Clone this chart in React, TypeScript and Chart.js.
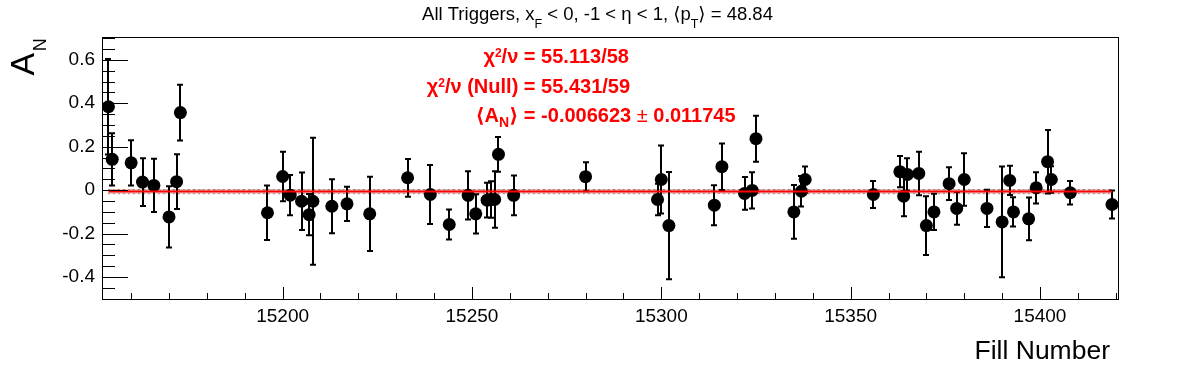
import React, { useEffect, useRef } from 'react';
import { Chart, registerables } from 'chart.js';

Chart.register(...registerables);

// ---------------- data ----------------
const fills = [
  15154, 15155, 15160, 15163, 15166, 15170, 15172, 15173, 15196, 15200,
  15202, 15205, 15207, 15208, 15213, 15217, 15223, 15233, 15239, 15244,
  15249, 15251, 15254, 15255, 15256, 15257, 15261, 15280, 15299, 15300,
  15302, 15314, 15316, 15322, 15324, 15325, 15335, 15337, 15338, 15356,
  15363, 15364, 15365, 15368, 15370, 15372, 15376, 15378, 15380, 15386,
  15390, 15392, 15393, 15397, 15399, 15402, 15403, 15408, 15419,
];
const asym = [
  0.384, 0.142, 0.126, 0.037, 0.022, -0.123, 0.039, 0.357, -0.104, 0.063,
  -0.023, -0.051, -0.113, -0.051, -0.074, -0.063, -0.109, 0.057, -0.02, -0.158,
  -0.024, -0.109, -0.046, -0.043, -0.043, 0.165, -0.024, 0.062, -0.043, 0.049,
  -0.163, -0.069, 0.108, -0.015, -0.001, 0.237, -0.1, -0.005, 0.049, -0.02,
  0.085, -0.028, 0.072, 0.077, -0.163, -0.1, 0.03, -0.084, 0.049, -0.084,
  -0.146, 0.045, -0.1, -0.132, 0.011, 0.131, 0.049, -0.012, -0.066,
];
const errs = [
  0.22, 0.12, 0.104, 0.11, 0.123, 0.141, 0.126, 0.128, 0.125, 0.114,
  0.093, 0.132, 0.095, 0.292, 0.124, 0.079, 0.171, 0.087, 0.136, 0.069,
  0.111, 0.09, 0.08, 0.084, 0.13, 0.08, 0.091, 0.067, 0.072, 0.157,
  0.247, 0.092, 0.107, 0.075, 0.083, 0.106, 0.124, 0.07, 0.06, 0.062,
  0.072, 0.092, 0.075, 0.1, 0.135, 0.083, 0.075, 0.075, 0.121, 0.086,
  0.255, 0.067, 0.067, 0.098, 0.072, 0.146, 0.061, 0.054, 0.065,
];
const fitMean = -0.006623;
const fitErr = 0.011745;
const xTickLabels = [15200, 15250, 15300, 15350, 15400];
const yTickLabels = [-0.4, -0.2, 0, 0.2, 0.4, 0.6];
const xRange = [15152.3, 15420.6];
const yRange = [-0.501, 0.705];

const FONT = '"Liberation Sans", Arial, Helvetica, "DejaVu Sans", sans-serif';

type Piece = { t: string; size: number; bold?: boolean; dy?: number };

function fontOf(p: Piece) {
  return `${p.bold ? 'bold ' : ''}${p.size}px ${FONT}`;
}
function richWidth(ctx: CanvasRenderingContext2D, pieces: Piece[]) {
  let w = 0;
  for (const p of pieces) {
    ctx.font = fontOf(p);
    w += ctx.measureText(p.t).width;
  }
  return w;
}
function drawRich(ctx: CanvasRenderingContext2D, pieces: Piece[], x: number, y: number) {
  let cx = x;
  for (const p of pieces) {
    ctx.font = fontOf(p);
    ctx.fillText(p.t, cx, y + (p.dy || 0));
    cx += ctx.measureText(p.t).width;
  }
}

const rootPlugin = {
  id: 'rootStyle',
  beforeDraw(chart: any) {
    const { ctx, width, height } = chart;
    ctx.save();
    ctx.fillStyle = '#fff';
    ctx.fillRect(0, 0, width, height);
    ctx.restore();
  },
  beforeDatasetsDraw(chart: any) {
    const { ctx, scales } = chart;
    const x = scales.x;
    const y = scales.y;
    ctx.save();
    // fit error band (grey dotted pattern)
    const x0 = x.getPixelForValue(fills[0]);
    const x1 = x.getPixelForValue(fills[fills.length - 1]);
    const yt = y.getPixelForValue(fitMean + fitErr);
    const yb = y.getPixelForValue(fitMean - fitErr);
    ctx.fillStyle = 'rgba(205,205,205,0.7)';
    ctx.fillRect(x0, yt, x1 - x0, yb - yt);
    ctx.strokeStyle = '#bdbdbd';
    ctx.lineWidth = 2;
    ctx.setLineDash([4, 3]);
    ctx.beginPath();
    ctx.moveTo(x0, yt + 1);
    ctx.lineTo(x1, yt + 1);
    ctx.stroke();
    ctx.strokeStyle = '#ff0000';
    ctx.lineWidth = 1;
    ctx.setLineDash([1, 4]);
    ctx.beginPath();
    ctx.moveTo(x0, yt + 0.5);
    ctx.lineTo(x1, yt + 0.5);
    ctx.moveTo(x0, yb - 0.5);
    ctx.lineTo(x1, yb - 0.5);
    ctx.stroke();
    ctx.setLineDash([]);
    // error bars
    ctx.strokeStyle = '#000';
    ctx.lineWidth = 2;
    for (let i = 0; i < fills.length; i++) {
      const px = Math.round(x.getPixelForValue(fills[i]));
      const p1 = y.getPixelForValue(asym[i] + errs[i]);
      const p2 = y.getPixelForValue(asym[i] - errs[i]);
      ctx.beginPath();
      ctx.moveTo(px, p1);
      ctx.lineTo(px, p2);
      ctx.moveTo(px - 3, p1);
      ctx.lineTo(px + 3, p1);
      ctx.moveTo(px - 3, p2);
      ctx.lineTo(px + 3, p2);
      ctx.stroke();
    }
    ctx.restore();
  },
  afterDraw(chart: any) {
    const { ctx, chartArea, scales } = chart;
    const x = scales.x;
    const y = scales.y;
    const { left, right, top, bottom } = chartArea;
    ctx.save();
    ctx.strokeStyle = '#000';
    ctx.lineWidth = 1;
    // frame
    ctx.strokeRect(Math.round(left) + 0.5, Math.round(top) + 0.5, Math.round(right - left), Math.round(bottom - top));
    // x ticks (inside, upward)
    ctx.beginPath();
    for (let v = Math.ceil(xRange[0] / 10) * 10; v <= xRange[1]; v += 10) {
      const px = Math.round(x.getPixelForValue(v)) + 0.5;
      const len = v % 50 === 0 ? 12 : 6;
      ctx.moveTo(px, bottom);
      ctx.lineTo(px, bottom - len);
    }
    // y ticks (inside, rightward)
    for (let k = -10; k <= 14; k++) {
      const v = k * 0.05;
      if (v < yRange[0] - 1e-9 || v > yRange[1] + 1e-9) continue;
      const py = Math.round(y.getPixelForValue(v)) + 0.5;
      const len = k % 4 === 0 ? 26 : 13;
      ctx.moveTo(left, py);
      ctx.lineTo(left + len, py);
    }
    ctx.stroke();

    ctx.fillStyle = '#000';
    ctx.textAlign = 'left';
    ctx.textBaseline = 'alphabetic';

    // title
    const title: Piece[] = [
      { t: 'All Triggers, x', size: 18.5 },
      { t: 'F', size: 12.5, dy: 8 },
      { t: ' < 0, -1 < \u03b7 < 1, \u27e8p', size: 18.5 },
      { t: 'T', size: 12.5, dy: 8 },
      { t: '\u27e9 = 48.84', size: 18.5 },
    ];
    const tw = richWidth(ctx, title);
    drawRich(ctx, title, 597.5 - tw / 2, 20);

    // x-axis title
    ctx.font = `26.5px ${FONT}`;
    ctx.textAlign = 'right';
    ctx.fillText('Fill Number', 1110, 359);
    ctx.textAlign = 'left';

    // y-axis title (rotated)
    ctx.save();
    ctx.translate(34, 75.5);
    ctx.rotate(-Math.PI / 2);
    ctx.font = `34px ${FONT}`;
    ctx.fillText('A', 0, 0);
    const wA = ctx.measureText('A').width;
    ctx.font = `18px ${FONT}`;
    ctx.fillText('N', wA + 1.5, 11.5);
    ctx.restore();

    // fit results
    ctx.fillStyle = '#ff0000';
    const eqX = 518.3;
    const lines: { l: Piece[]; r: Piece[]; y: number }[] = [
      {
        l: [
          { t: '\u03c7', size: 20, bold: true },
          { t: '2', size: 12, bold: true, dy: -6 },
          { t: '/\u03bd', size: 20, bold: true },
        ],
        r: [{ t: ' = 55.113/58', size: 20, bold: true }],
        y: 63.3,
      },
      {
        l: [
          { t: '\u03c7', size: 20, bold: true },
          { t: '2', size: 12, bold: true, dy: -6 },
          { t: '/\u03bd (Null)', size: 20, bold: true },
        ],
        r: [{ t: ' = 55.431/59', size: 20, bold: true }],
        y: 92.7,
      },
      {
        l: [
          { t: '\u27e8A', size: 20, bold: true },
          { t: 'N', size: 14, bold: true, dy: 5 },
          { t: '\u27e9', size: 20, bold: true },
        ],
        r: [
          { t: ' = -0.006623 ', size: 20, bold: true },
          { t: '\u00b1', size: 20 },
          { t: ' 0.011745', size: 20, bold: true },
        ],
        y: 121.7,
      },
    ];
    for (const ln of lines) {
      const lw = richWidth(ctx, ln.l);
      drawRich(ctx, ln.l, eqX - lw, ln.y);
      drawRich(ctx, ln.r, eqX, ln.y);
    }
    ctx.restore();
  },
};

export default function App() {
  const canvasRef = useRef<HTMLCanvasElement | null>(null);

  useEffect(() => {
    const canvas = canvasRef.current;
    if (!canvas) return;
    Chart.defaults.font.family = FONT;
    Chart.defaults.color = '#000';

    const points = fills.map((f, i) => ({ x: f, y: asym[i] }));
    const fitLine = [
      { x: fills[0], y: fitMean },
      { x: fills[fills.length - 1], y: fitMean },
    ];

    const chart = new Chart(canvas, {
      type: 'scatter',
      data: {
        datasets: [
          {
            type: 'line',
            label: 'fit',
            data: fitLine,
            borderColor: '#ff0000',
            borderWidth: 2,
            pointRadius: 0,
            fill: false,
            order: 0,
          } as any,
          {
            type: 'scatter',
            label: 'A_N',
            data: points,
            backgroundColor: '#000',
            borderColor: '#000',
            borderWidth: 0,
            pointRadius: 6.5,
            order: 1,
          },
        ],
      },
      options: {
        responsive: false,
        devicePixelRatio: 1,
        animation: false,
        layout: { padding: { left: 0, top: 37, right: 78, bottom: 0 } },
        plugins: { legend: { display: false }, tooltip: { enabled: false }, title: { display: false } },
        scales: {
          x: {
            type: 'linear',
            min: xRange[0],
            max: xRange[1],
            grid: { display: false, drawTicks: false },
            border: { display: false },
            ticks: {
              padding: 6,
              autoSkip: false,
              maxRotation: 0,
              color: '#000',
              font: { size: 19, family: FONT },
              callback: (v: any) => String(v),
            },
            afterBuildTicks: (s: any) => {
              s.ticks = xTickLabels.map((v) => ({ value: v }));
            },
            afterFit: (s: any) => {
              s.height = 73;
            },
          },
          y: {
            type: 'linear',
            min: yRange[0],
            max: yRange[1],
            grid: { display: false, drawTicks: false },
            border: { display: false },
            ticks: {
              padding: 7,
              autoSkip: false,
              color: '#000',
              font: { size: 19, family: FONT },
              callback: (v: any) => String(Math.round(v * 10) / 10),
            },
            afterBuildTicks: (s: any) => {
              s.ticks = yTickLabels.map((v) => ({ value: v }));
            },
            afterFit: (s: any) => {
              s.width = 102;
            },
          },
        },
      },
      plugins: [rootPlugin],
    });

    return () => chart.destroy();
  }, []);

  return (
    <div style={{ position: 'fixed', left: 0, top: 0, width: 1196, height: 372, background: '#fff' }}>
      <canvas ref={canvasRef} width={1196} height={372} style={{ display: 'block', width: 1196, height: 372 }} />
    </div>
  );
}
